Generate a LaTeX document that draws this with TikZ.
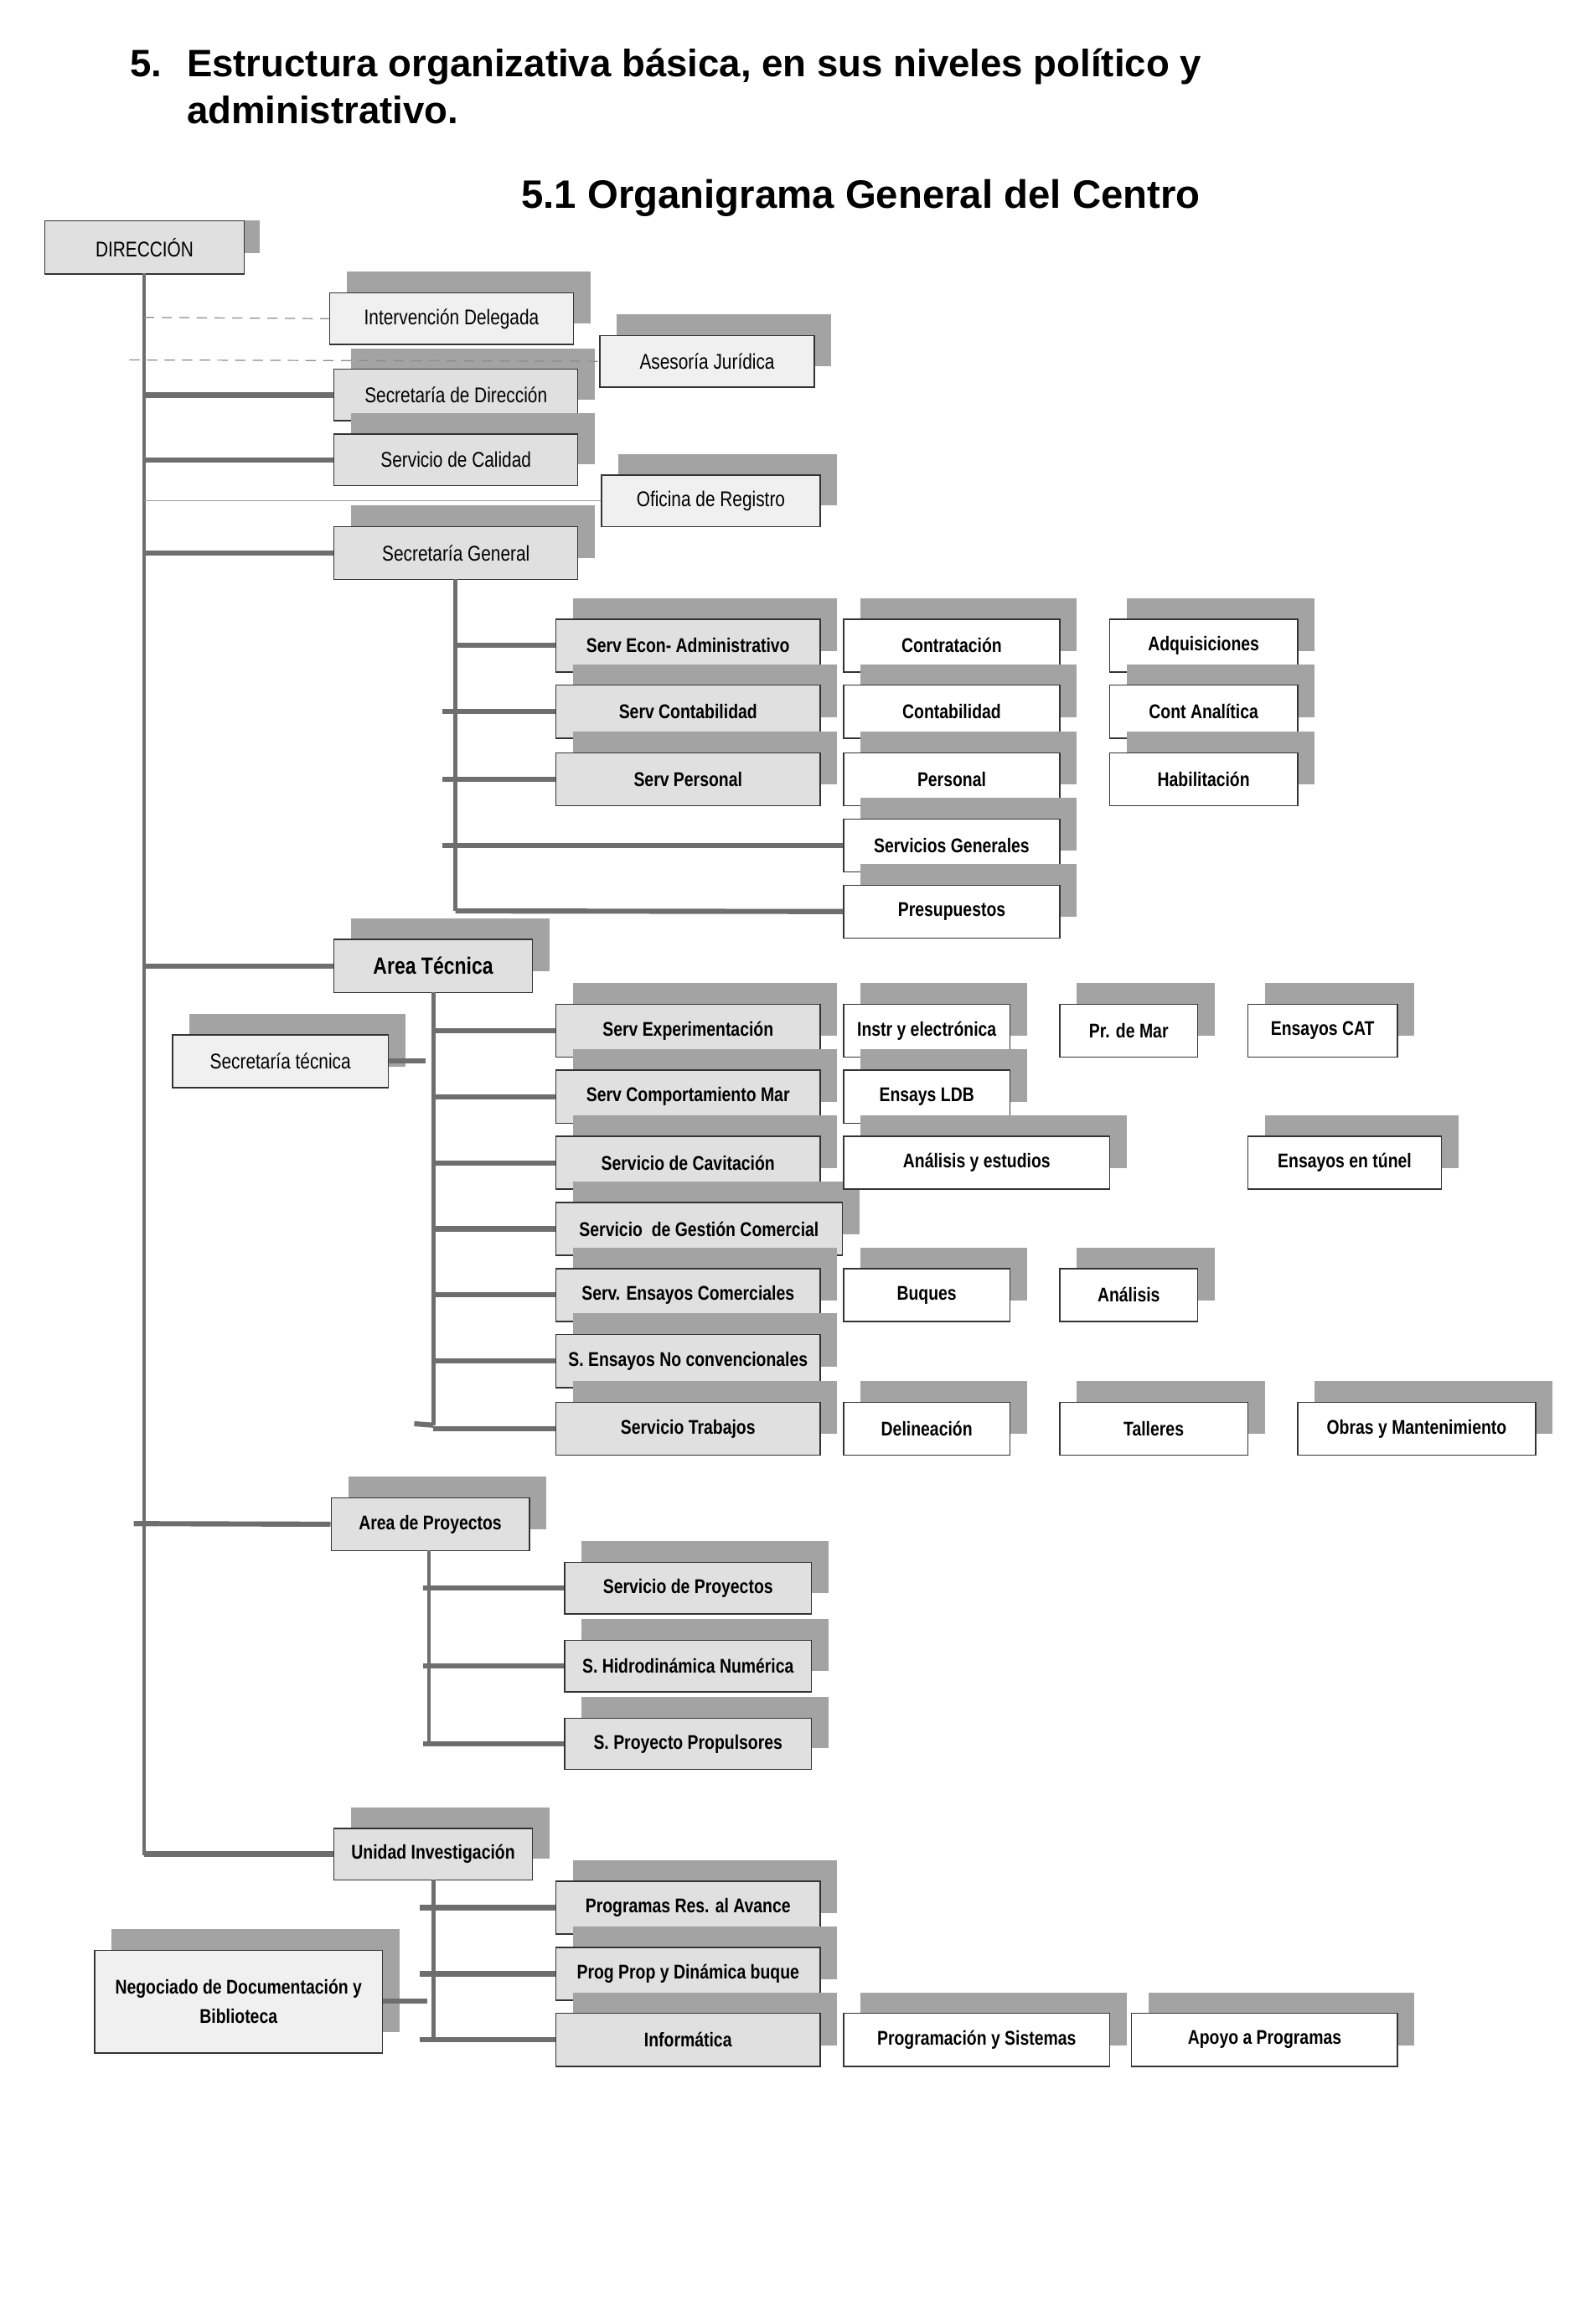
\documentclass[tikz,border=0pt]{standalone}
\usepackage{fontspec}
\setmainfont{Liberation Sans}
\newfontfamily\cond{Liberation Sans}[FakeStretch=0.82]
\begin{document}
\definecolor{sh}{HTML}{A3A3A3}
\definecolor{ln}{HTML}{6E6E6E}
\definecolor{fA}{HTML}{E0E0E0}
\definecolor{fB}{HTML}{F0F0F0}
\begin{tikzpicture}[x=1pt,y=-1pt,
  tl/.style={draw=ln,line width=3.5pt},
  tr/.style={draw=ln,line width=2.6pt},
  thin/.style={draw=ln!70,line width=0.8pt},
  dsh/.style={draw=ln!80,line width=0.7pt,dash pattern=on 7pt off 5pt},
  light/.style={fill=fB,font=\cond\fontsize{14.5}{16}\selectfont},
  grey/.style={fill=fA,font=\cond\fontsize{14.5}{16}\selectfont},
  greyb/.style={fill=fA,font=\cond\bfseries\fontsize{13.5}{15}\selectfont},
  whiteb/.style={fill=white,font=\cond\bfseries\fontsize{13.5}{15}\selectfont},
  big/.style={fill=fA,font=\cond\bfseries\fontsize{16}{18}\selectfont}]
\useasboundingbox (0,0) rectangle (1086,1577);
\newcommand\bx[7]{%
  \fill[sh] ({#2+12},{#3-14}) rectangle ({#4+12},{#5-14});
  \node[#6,draw=black!80,line width=0.8pt,inner sep=0pt,minimum width={#4-#2},minimum height={#5-#3},align=center,anchor=north west] (#1) at (#2,#3) {#7};}
% titles
\node[anchor=base west,font=\bfseries\fontsize{26}{30}\selectfont] (t5) at (85,52) {5.};
\node[anchor=base west,font=\bfseries\fontsize{26}{30}\selectfont,text width=945pt,align=justify,inner sep=0pt] (t1) at (127,52) {Estructura organizativa básica, en sus niveles político y\\[-0pt]};
\node[anchor=base west,font=\bfseries\fontsize{26}{30}\selectfont,inner sep=0pt] (t2) at (127,84) {administrativo.};
\node[font=\bfseries\fontsize{27}{30}\selectfont] (t3) at (586,135) {5.1 Organigrama General del Centro};
% boxes
\fill[sh] (42,150) rectangle (177,172);
\node[grey,draw=black!80,line width=0.8pt,minimum width=136pt,minimum height=36pt,anchor=north west,inner sep=0pt] (dir) at (30,150) {DIRECCIÓN};
\bx{interv}{224}{199}{390}{234}{light}{Intervención Delegada}
\bx{sdir}{227}{251}{393}{286}{grey}{Secretaría de Dirección}
\bx{ases}{408}{228}{554}{263}{light}{Asesoría Jurídica}
\bx{cal}{227}{295}{393}{330}{grey}{Servicio de Calidad}
\bx{sgen}{227}{358}{393}{394}{grey}{Secretaría General}
\bx{ofic}{409}{323}{558}{358}{light}{Oficina de Registro}
% sec general
\bx{sea}{378}{421}{558}{457}{greyb}{Serv Econ- Administrativo}
\bx{scont}{378}{466}{558}{502}{greyb}{Serv Contabilidad}
\bx{spers}{378}{512}{558}{548}{greyb}{Serv Personal}
\bx{contr}{574}{421}{721}{457}{whiteb}{Contratación}
\bx{conta}{574}{466}{721}{502}{whiteb}{Contabilidad}
\bx{pers}{574}{512}{721}{548}{whiteb}{Personal}
\bx{sgenr}{574}{557}{721}{593}{whiteb}{Servicios Generales}
\bx{presu}{574}{602}{721}{638}{whiteb}{Presupuestos}
\bx{adq}{755}{421}{883}{457}{whiteb}{Adquisiciones}
\bx{cana}{755}{466}{883}{502}{whiteb}{Cont Analítica}
\bx{habil}{755}{512}{883}{548}{whiteb}{Habilitación}
% area tecnica
\bx{atec}{227}{639}{362}{675}{big}{Area Técnica}
\bx{stec}{117}{704}{264}{740}{light}{Secretaría técnica}
\bx{sexp}{378}{683}{558}{719}{greyb}{Serv Experimentación}
\bx{scm}{378}{728}{558}{764}{greyb}{Serv Comportamiento Mar}
\bx{scav}{378}{773}{558}{809}{greyb}{Servicio de Cavitación}
\bx{sgc}{378}{818}{573}{854}{greyb}{Servicio\ \ de Gestión Comercial}
\bx{sec}{378}{863}{558}{899}{greyb}{Serv. Ensayos Comerciales}
\bx{senc}{378}{908}{558}{944}{greyb}{S. Ensayos No convencionales}
\bx{strab}{378}{954}{558}{990}{greyb}{Servicio Trabajos}
\bx{instr}{574}{683}{687}{719}{whiteb}{Instr y electrónica}
\bx{prmar}{721}{683}{815}{719}{whiteb}{Pr. de Mar}
\bx{ecat}{849}{683}{951}{719}{whiteb}{Ensayos CAT}
\bx{eldb}{574}{728}{687}{764}{whiteb}{Ensays LDB}
\bx{aye}{574}{773}{755}{809}{whiteb}{Análisis y estudios}
\bx{etun}{849}{773}{981}{809}{whiteb}{Ensayos en túnel}
\bx{buq}{574}{863}{687}{899}{whiteb}{Buques}
\bx{anal}{721}{863}{815}{899}{whiteb}{Análisis}
\bx{delin}{574}{954}{687}{990}{whiteb}{Delineación}
\bx{tall}{721}{954}{849}{990}{whiteb}{Talleres}
\bx{obras}{883}{954}{1045}{990}{whiteb}{Obras y Mantenimiento}
% area proyectos
\bx{apro}{225}{1019}{360}{1055}{greyb}{Area de Proyectos}
\bx{spro}{384}{1063}{552}{1098}{greyb}{Servicio de Proyectos}
\bx{shid}{384}{1116}{552}{1151}{greyb}{S. Hidrodinámica Numérica}
\bx{sprop}{384}{1169}{552}{1204}{greyb}{S. Proyecto Propulsores}
% unidad
\bx{uinv}{227}{1244}{362}{1279}{greyb}{Unidad Investigación}
\bx{pra}{378}{1280}{558}{1316}{greyb}{Programas Res. al Avance}
\bx{ppd}{378}{1325}{558}{1361}{greyb}{Prog Prop y Dinámica buque}
\bx{inf}{378}{1370}{558}{1406}{greyb}{Informática}
\bx{pys}{574}{1370}{755}{1406}{whiteb}{Programación y Sistemas}
\bx{apo}{770}{1370}{951}{1406}{whiteb}{Apoyo a Programas}
\bx{neg}{64}{1327}{260}{1397}{light,font=\cond\bfseries\fontsize{13.5}{20}\selectfont}{Negociado de Documentación y\\Biblioteca}
% connectors
\coordinate (tk) at (98,186);
\coordinate (tkb) at (98,1263);
\draw[tr] (tk) -- (tkb);
\draw[dsh] (98,216) -- (interv.west);
\coordinate (dl) at (88,245);
\draw[dsh] (dl) -- (ases.west);
\draw[thin] (tk |- ofic.west) -- (ofic.west);
\foreach \n in {sdir,cal,sgen,atec,uinv} \draw[tl] (tk |- \n.west) -- (\n.west);
\coordinate (ap) at (91,1037);
\draw[tl] (ap) -- (apro.west);
% sec general
\coordinate (g1) at (310,394);
\coordinate (g2) at (310,620);
\draw[tr] (g1) -- (g2);
\draw[tl] (g1 |- sea.west) -- (sea.west);
\foreach \n in {scont,spers,sgenr} {\coordinate (gx) at (301,0); \draw[tl] (gx |- \n.west) -- (\n.west);}
\draw[tl] (g2) -- (presu.west);
% area tecnica
\coordinate (a1) at (295,675);
\coordinate (a2) at (295,970);
\draw[tr] (a1) -- (a2);
\foreach \n in {sexp,scm,scav,sgc,sec,senc,strab} \draw[tl] (a1 |- \n.west) -- (\n.west);
\coordinate (at) at (290,722);
\draw[tl] (stec.east |- at) -- (at);
\coordinate (a3) at (282,969);
\draw[tl] (a3) -- (a2);
% area proyectos
\coordinate (p1) at (292,1055);
\coordinate (p2) at (292,1187);
\draw[tr] (p1) -- (p2);
\coordinate (px) at (288,0);
\foreach \n in {spro,shid,sprop} \draw[tl] (px |- \n.west) -- (\n.west);
% unidad
\coordinate (u1) at (295,1279);
\coordinate (u2) at (295,1389);
\draw[tr] (u1) -- (u2);
\coordinate (ux) at (286,0);
\foreach \n in {pra,ppd,inf} \draw[tl] (ux |- \n.west) -- (\n.west);
\coordinate (un) at (291,1362);
\draw[tl] (neg.east |- un) -- (un);
\end{tikzpicture}
\end{document}
